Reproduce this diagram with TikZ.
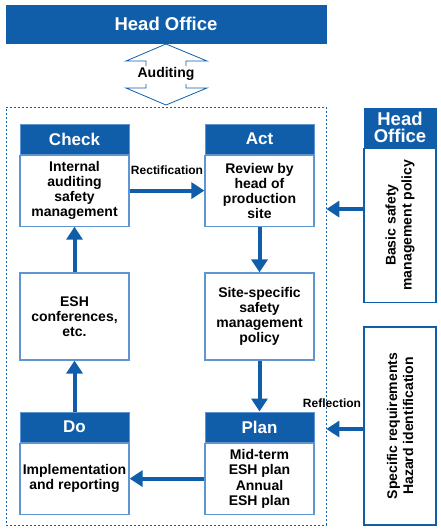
\documentclass[tikz,border=0pt]{standalone}
\usepackage{fontspec}
\setmainfont{Liberation Sans}
\usetikzlibrary{arrows.meta}
\definecolor{officeblue}{RGB}{16, 94, 170}
\definecolor{boxblue}{RGB}{95, 150, 210}

\begin{document}
\begin{tikzpicture}[x=1pt, y=-1pt,
    phasehead/.style={fill=officeblue, draw=boxblue, line width=1pt, text=white,
        font=\fontsize{17}{17}\selectfont\bfseries, minimum width=109pt, minimum height=30pt, inner sep=0pt},
    phasebody/.style={draw=boxblue, line width=1.2pt, fill=white, align=center, minimum width=109pt,
        inner sep=0pt, font=\fontsize{14}{15}\selectfont\bfseries},
    sidebox/.style={draw=officeblue, line width=1.2pt, minimum width=72pt, inner sep=0pt},
    sidetext/.style={rotate=90, align=center, inner sep=0pt, font=\fontsize{14}{16}\selectfont\bfseries},
    flow/.style={draw=officeblue, line width=4pt, -{Triangle[width=16pt, length=13pt]}},
    lbl/.style={font=\fontsize{12}{12}\selectfont\bfseries, inner sep=0pt}
]
    \useasboundingbox (0,0) rectangle (440,530);

    % head office and auditing
    \node[phasehead, draw=officeblue, minimum width=320pt, minimum height=38pt,
        font=\fontsize{18.5}{18.5}\selectfont\bfseries] (office) at (166,24) {Head Office};
    \node[font=\fontsize{14}{14}\selectfont\bfseries, inner sep=0pt] (audit) at (166,74) {Auditing};
    \draw[officeblue, line width=0.8pt] (146,66) -- (146,61) -- (126,61) -- (166,44) -- (207,61) -- (186,61) -- (186,66);
    \draw[officeblue, line width=0.8pt] (146,84) -- (146,88) -- (126,88) -- (166,105) -- (207,88) -- (186,88) -- (186,84);

    % production site frame
    \node[draw=officeblue, dash pattern=on 2pt off 2pt, line width=0.8pt, minimum width=320pt,
        minimum height=418pt, inner sep=0pt] (site) at (166,316) {};

    % check / act
    \node[phasehead] (checkhd) at (74.5,139) {Check};
    \node[phasebody, minimum height=71pt, anchor=north] (check) at (checkhd.south)
        {Internal\\auditing\\safety\\management};
    \node[phasehead] (acthd) at (259.5,139) {Act};
    \node[phasebody, minimum height=71pt, anchor=north] (act) at (acthd.south)
        {Review by\\head of\\production\\site};

    % middle row
    \node[phasebody, minimum height=87pt] (esh) at (74.5,316.5) {ESH\\conferences,\\etc.};
    \node[phasebody, minimum height=87pt] (sitepol) at (259.5,316.5)
        {Site-specific\\safety\\management\\policy};

    % do / plan
    \node[phasehead] (dohd) at (74.5,427) {Do};
    \node[phasebody, minimum height=71pt, anchor=north] (do) at (dohd.south)
        {Implementation\\and reporting};
    \node[phasehead] (planhd) at (259.5,427) {Plan};
    \node[phasebody, minimum height=71pt, anchor=north] (plan) at (planhd.south)
        {Mid-term\\ESH plan\\[1pt]Annual\\ESH plan};

    % side boxes
    \node[phasehead, draw=officeblue, minimum width=72pt, minimum height=39pt, align=center,
        font=\fontsize{18.5}{17}\selectfont\bfseries] (hohd) at (400,127.5) {Head\\Office};
    \node[sidebox, minimum height=154pt, anchor=north] (basic) at (hohd.south) {};
    \node[sidetext] (basictxt) at (basic) {Basic safety\\management policy};
    \node[sidebox, minimum height=198pt] (hazard) at (400,426) {};
    \node[sidetext] (hazardtxt) at (hazard) {Specific requirements\\Hazard identification};

    % cycle
    \draw[flow] (check) -- (act) node[lbl, midway, above=14pt] (rect) {Rectification};
    \draw[flow] (act) -- (sitepol);
    \draw[flow] (sitepol) -- (planhd);
    \draw[flow] (plan) -- (do);
    \draw[flow] (dohd) -- (esh);
    \draw[flow] (esh) -- (check);

    % inputs from outside
    \coordinate (basicin) at ([yshift=16pt]basic.west);
    \coordinate (hazardin) at ([yshift=-3pt]hazard.west);
    \draw[flow] (basicin) -- (basicin -| site.east);
    \draw[flow] (hazardin) -- (hazardin -| site.east);
    \node[lbl] (refl) at (332,403.5) {Reflection};
\end{tikzpicture}
\end{document}
